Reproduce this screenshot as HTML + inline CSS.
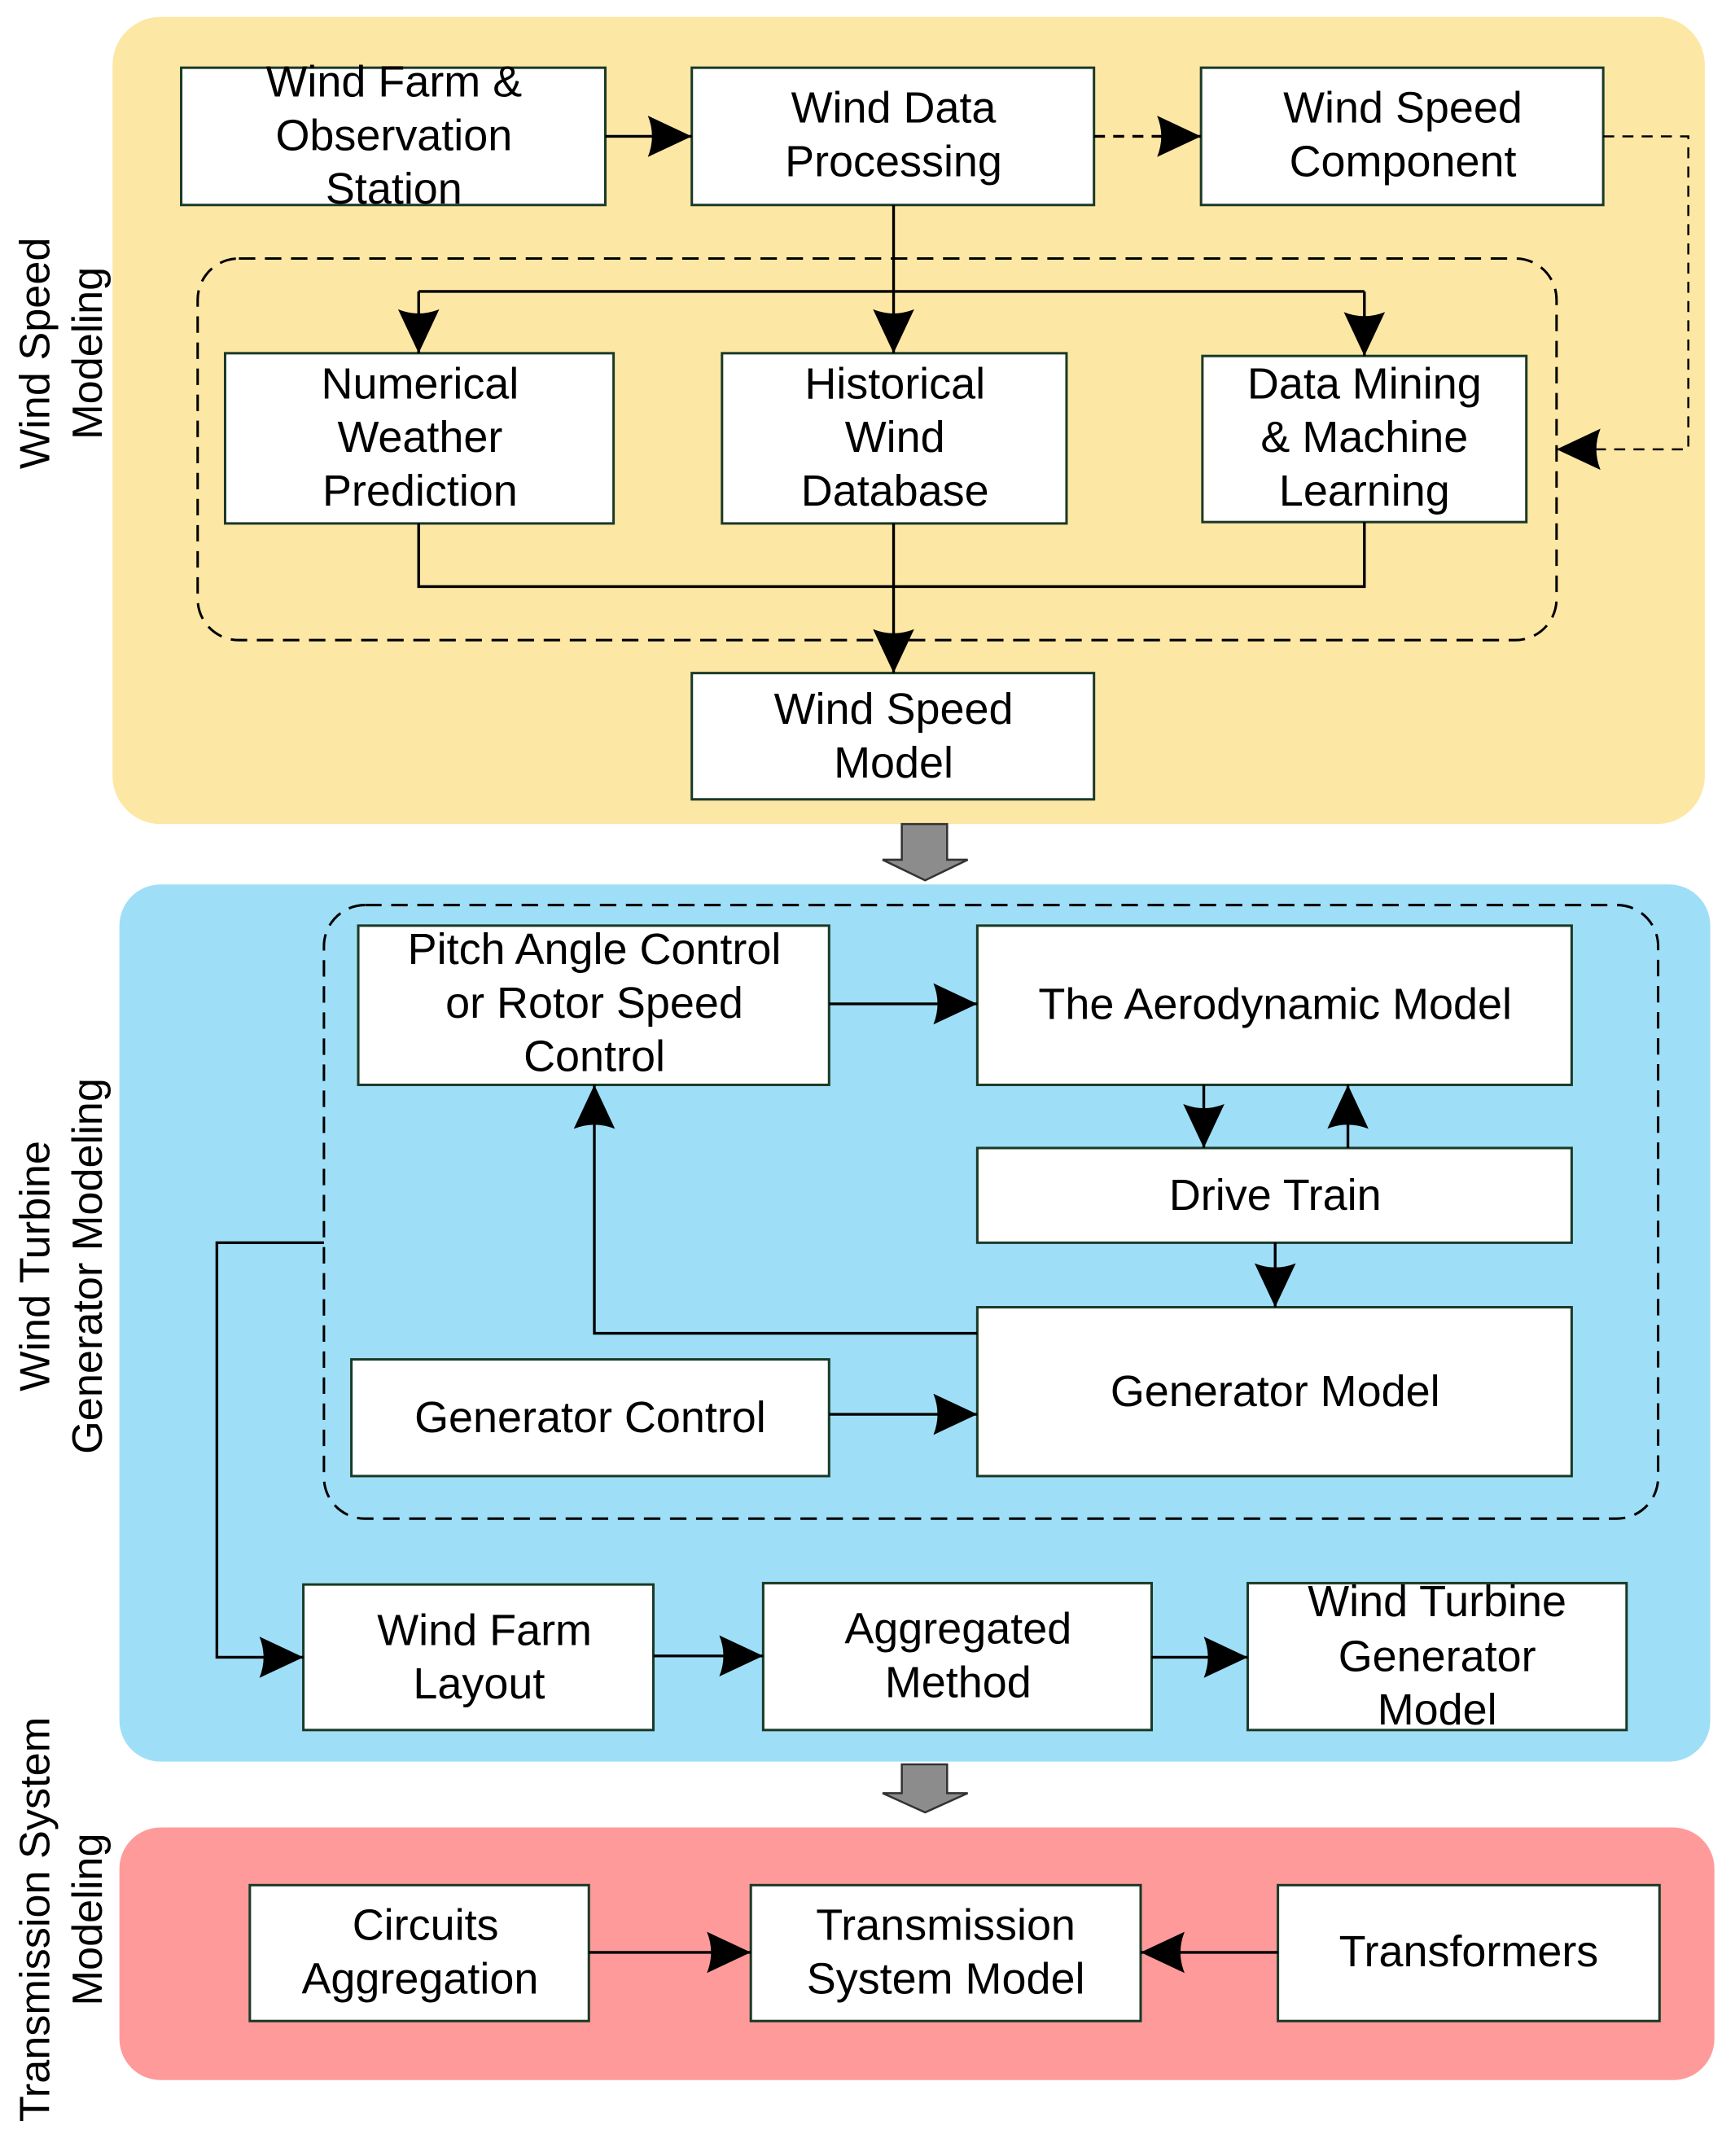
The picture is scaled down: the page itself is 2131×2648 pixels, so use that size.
<!DOCTYPE html>
<html><head><meta charset="utf-8"><style>html,body{margin:0;padding:0;background:#fff}svg{display:block}</style></head>
<body>
<svg width="2131" height="2648" viewBox="0 0 1264 1570" xmlns="http://www.w3.org/2000/svg" font-family="Liberation Sans, Arial, sans-serif">
<defs>
<marker id="a" markerUnits="userSpaceOnUse" markerWidth="40" markerHeight="40" viewBox="0 0 40 40" refX="36" refY="20" orient="auto">
<path d="M36 20 L4 5 Q10 20 4 35 Z" fill="#000"/>
</marker>
</defs>
<rect x="82" y="12" width="1160" height="588" rx="35" fill="#FDE7A5"/>
<rect x="87" y="644" width="1159" height="639" rx="30" fill="#9EDFF7"/>
<rect x="87" y="1331" width="1162" height="184" rx="30" fill="#FE9B9A"/>
<g fill="none" stroke="#000" stroke-width="1.8" stroke-dasharray="12,7">
<rect x="144" y="188" width="990" height="278" rx="30"/>
<rect x="236" y="659" width="972" height="447" rx="30"/>
</g>
<g fill="#fff" stroke="#1b3a27" stroke-width="1.8">
<rect x="132" y="49" width="309" height="100"/>
<rect x="504" y="49" width="293" height="100"/>
<rect x="875" y="49" width="293" height="100"/>
<rect x="164" y="257" width="283" height="124"/>
<rect x="526" y="257" width="251" height="124"/>
<rect x="876" y="259" width="236" height="121"/>
<rect x="504" y="490" width="293" height="92"/>
<rect x="261" y="674" width="343" height="116"/>
<rect x="712" y="674" width="433" height="116"/>
<rect x="712" y="836" width="433" height="69"/>
<rect x="712" y="952" width="433" height="123"/>
<rect x="256" y="990" width="348" height="85"/>
<rect x="221" y="1154" width="255" height="106"/>
<rect x="556" y="1153" width="283" height="107"/>
<rect x="909" y="1153" width="276" height="107"/>
<rect x="182" y="1373" width="247" height="99"/>
<rect x="547" y="1373" width="284" height="99"/>
<rect x="931" y="1373" width="278" height="99"/>
</g>
<g fill="none" stroke="#000" stroke-width="2">
<path d="M441 99 H504" marker-end="url(#a)"/>
<path d="M797 99 H875" stroke-dasharray="8,6" marker-end="url(#a)"/>
<path d="M1168 99 H1230 V327 H1134" stroke-dasharray="8,6" stroke-width="1.5" marker-end="url(#a)"/>
<path d="M651 149 V257" marker-end="url(#a)"/>
<path d="M305 212 H994"/>
<path d="M305 212 V257" marker-end="url(#a)"/>
<path d="M994 212 V259" marker-end="url(#a)"/>
<path d="M305 381 V427 H994 V380"/>
<path d="M651 381 V490" marker-end="url(#a)"/>
<path d="M604 731 H712" marker-end="url(#a)"/>
<path d="M877 790 V836" marker-end="url(#a)"/>
<path d="M982 836 V790" marker-end="url(#a)"/>
<path d="M929 905 V952" marker-end="url(#a)"/>
<path d="M712 971 H433 V790" marker-end="url(#a)"/>
<path d="M604 1030 H712" marker-end="url(#a)"/>
<path d="M236 905 H158 V1207 H221" marker-end="url(#a)"/>
<path d="M476 1206 H556" marker-end="url(#a)"/>
<path d="M839 1207 H909" marker-end="url(#a)"/>
<path d="M429 1422 H547" marker-end="url(#a)"/>
<path d="M931 1422 H831" marker-end="url(#a)"/>
</g>
<g fill="#8c8c8c" stroke="#333" stroke-width="1.5">
<path d="M657 600 H690 V626 H705 L674 641 L643 626 H657 Z"/>
<path d="M657 1285 H690 V1306 H705 L674 1320 L643 1306 H657 Z"/>
</g>
<g font-size="32" text-anchor="middle" fill="#000">
<text x="287" y="70">Wind Farm &amp;</text><text x="287" y="109">Observation</text><text x="287" y="148">Station</text>
<text x="651" y="89">Wind Data</text><text x="651" y="128">Processing</text>
<text x="1022" y="89">Wind  Speed</text><text x="1022" y="128">Component</text>
<text x="306" y="290">Numerical</text><text x="306" y="329">Weather</text><text x="306" y="368">Prediction</text>
<text x="652" y="290">Historical</text><text x="652" y="329">Wind</text><text x="652" y="368">Database</text>
<text x="994" y="290">Data Mining</text><text x="994" y="329">&amp; Machine</text><text x="994" y="368">Learning</text>
<text x="651" y="527">Wind Speed</text><text x="651" y="566">Model</text>
<text x="433" y="702">Pitch Angle Control</text><text x="433" y="741">or Rotor Speed</text><text x="433" y="780">Control</text>
<text x="929" y="742">The Aerodynamic Model</text>
<text x="929" y="881">Drive Train</text>
<text x="929" y="1024">Generator Model</text>
<text x="430" y="1043">Generator Control</text>
<text x="353" y="1198">Wind Farm</text><text x="349" y="1237">Layout</text>
<text x="698" y="1197">Aggregated</text><text x="698" y="1236">Method</text>
<text x="1047" y="1177">Wind Turbine</text><text x="1047" y="1217">Generator</text><text x="1047" y="1256">Model</text>
<text x="310" y="1413">Circuits</text><text x="306" y="1452">Aggregation</text>
<text x="689" y="1413">Transmission</text><text x="689" y="1452">System Model</text>
<text x="1070" y="1432">Transformers</text>
</g>
<g font-size="31" text-anchor="middle" fill="#000">
<text transform="translate(36,257) rotate(-90)">Wind Speed</text>
<text transform="translate(74,257) rotate(-90)">Modeling</text>
<text transform="translate(36,922) rotate(-90)">Wind Turbine</text>
<text transform="translate(74,922) rotate(-90)">Generator Modeling</text>
<text transform="translate(36,1398) rotate(-90)">Transmission System</text>
<text transform="translate(74,1398) rotate(-90)">Modeling</text>
</g>
</svg>
</body></html>
